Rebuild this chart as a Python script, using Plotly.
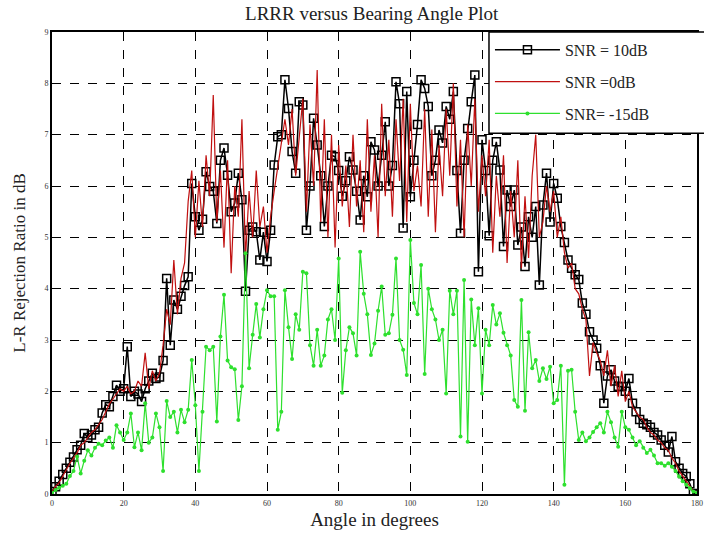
import plotly.graph_objects as go

angles = list(range(0, 181))

snr_10db = [
    0.05, 0.14, 0.25, 0.38, 0.5, 0.62, 0.72, 0.86, 0.95, 1.18,
    1.1, 1.15, 1.25, 1.3, 1.58, 1.74, 1.7, 1.9, 2.12, 2.0,
    2.05, 2.87, 1.9, 2.0, 1.95, 1.8, 2.05, 2.2, 2.35, 2.25,
    2.28, 2.6, 4.2, 2.9, 3.78, 3.6, 3.85, 4.06, 4.23, 6.05,
    5.4, 5.14, 5.35, 6.28, 5.99, 5.9, 5.27, 6.5, 6.74, 6.21,
    5.5, 5.67, 6.25, 5.73, 3.95, 5.14, 5.2, 5.11, 4.56, 5.1,
    4.53, 5.14, 6.41, 6.96, 7.0, 8.07, 7.51, 6.67, 6.25, 7.64,
    7.58, 5.14, 6.0, 7.32, 6.8, 6.2, 5.21, 6.0, 6.6, 6.57,
    6.3, 5.8, 6.1, 6.57, 6.31, 5.9, 5.34, 6.2, 5.79, 6.86,
    6.7, 6.0, 6.6, 7.25, 6.0, 6.4, 8.03, 7.6, 5.18, 7.84,
    5.79, 6.5, 7.2, 8.07, 7.9, 7.55, 6.2, 6.5, 7.09, 6.84,
    7.55, 7.3, 7.84, 6.3, 5.08, 6.5, 7.12, 7.64, 8.16, 4.33,
    6.9, 6.3, 5.03, 6.5, 6.86, 6.31, 4.82, 5.92, 5.6, 5.92,
    4.85, 5.2, 4.43, 5.4, 5.0, 5.6, 4.07, 5.63, 6.25, 5.3,
    6.05, 5.76, 5.21, 4.9, 4.56, 4.4, 4.27, 4.18, 3.72, 3.5,
    3.16, 3.0, 2.84, 2.5, 1.77, 2.3, 2.42, 2.2, 2.1, 2.09,
    2.0, 2.25, 1.77, 1.6, 1.45, 1.38, 1.35, 1.3, 1.2, 1.15,
    1.05, 0.95, 0.82, 1.12, 0.63, 0.5, 0.4, 0.34, 0.2, 0.01,
    0.0,
]

snr_0db = [
    0.05, 0.15, 0.22, 0.35, 0.45, 0.6, 0.7, 0.8, 0.95, 1.0,
    1.1, 1.2, 1.25, 1.35, 1.45, 1.6, 1.75, 1.85, 1.95, 2.05,
    2.0, 2.1, 1.95, 2.0, 2.2, 2.1, 2.75, 2.05, 2.4, 2.2,
    2.35, 2.9, 3.6, 3.3, 4.56, 3.5, 4.2, 4.5, 5.7, 6.3,
    5.0, 6.1, 5.2, 6.6, 5.8, 7.77, 5.3, 6.3, 4.8, 6.5,
    4.3, 6.0, 5.4, 7.3, 4.6, 5.9, 5.0, 6.3, 5.2, 5.6,
    4.7, 5.4, 5.9, 6.4, 6.9, 7.3, 6.8, 7.5, 6.2, 7.0,
    7.7, 5.5, 7.2, 6.0, 8.26, 5.3, 7.3, 5.0, 7.0, 4.8,
    6.8, 5.6, 6.4, 5.2, 7.0, 5.6, 6.5, 5.1, 7.3, 5.5,
    6.6, 5.0, 7.6, 5.8, 6.9, 5.4, 7.3, 6.1, 7.7, 5.3,
    7.6, 5.9, 6.4, 5.6, 7.5, 5.4, 7.1, 5.1, 6.8, 5.8,
    7.5, 6.2, 8.0, 5.6, 6.9, 5.0, 7.2, 6.0, 7.7, 5.5,
    6.6, 5.8, 6.9, 4.7, 6.2, 5.4, 6.6, 4.5, 5.9, 5.0,
    6.5, 4.4, 5.8, 4.6, 6.2, 7.0, 5.0, 5.3, 6.0, 5.5,
    5.9, 5.0, 5.4, 4.7, 4.4, 4.5, 4.0, 3.9, 3.6, 3.4,
    2.3, 2.95, 2.75, 2.6, 2.3, 2.8, 2.1, 2.5, 1.9, 2.4,
    1.8, 2.0, 1.7, 1.6, 1.5, 1.45, 1.3, 1.2, 1.15, 1.05,
    1.0, 0.9, 0.85, 0.7, 0.6, 0.45, 0.35, 0.25, 0.15, 0.05,
    0.02,
]

snr_m15db = [
    0.02, 0.08, 0.12, 0.16, 0.2, 0.35, 0.45, 0.73, 0.4, 0.65,
    0.85, 0.75, 0.9, 0.98, 0.95, 1.04, 1.1, 0.9, 1.34, 1.2,
    1.05, 1.2, 1.57, 0.91, 1.2, 0.85, 1.77, 1.0, 1.1, 1.57,
    1.3, 0.45, 1.81, 1.5, 1.6, 1.2, 1.64, 1.4, 1.64, 2.61,
    1.73, 0.45, 1.6, 2.87, 2.8, 2.87, 1.41, 3.07, 3.88, 2.6,
    2.47, 2.43, 1.44, 2.1, 4.69, 2.45, 3.1, 3.7, 3.05, 3.6,
    3.97, 3.85, 3.85, 1.25, 1.6, 3.97, 3.25, 2.63, 3.5, 3.2,
    4.33, 4.3, 2.9, 2.5, 3.2, 2.5, 2.7, 3.4, 3.6, 3.0,
    4.59, 1.97, 2.8, 3.25, 3.13, 2.7, 4.72, 3.9, 3.5, 2.71,
    2.93, 3.57, 4.04, 3.1, 3.13, 3.49, 4.59, 3.0, 2.81, 2.32,
    4.95, 3.72, 3.5, 4.46, 2.34, 4.0, 3.6, 3.4, 3.0, 3.2,
    1.96, 3.96, 3.5, 3.96, 1.12, 4.17, 1.02, 3.79, 2.9, 3.62,
    1.96, 3.2, 2.9, 3.68, 3.3, 3.52, 3.14, 2.9, 2.7, 1.83,
    1.7, 3.78, 1.62, 3.15, 2.45, 2.61, 2.2, 2.45, 2.24, 2.48,
    1.77, 1.83, 2.5, 0.18, 2.4, 2.42, 1.6, 1.05, 1.2, 1.03,
    1.1, 1.21, 1.3, 1.38, 1.2, 1.6, 1.4, 1.1, 0.92, 1.6,
    1.3, 1.25, 1.1, 0.95, 1.03, 0.9, 0.8, 0.86, 0.75, 0.6,
    0.6, 0.55, 0.6, 0.53, 0.45, 0.34, 0.25, 0.18, 0.11, 0.05,
    0.02,
]

x_ticks = [0, 20, 40, 60, 80, 100, 120, 140, 160, 180]
y_ticks = [0, 1, 2, 3, 4, 5, 6, 7, 8, 9]

serif = "Liberation Serif, Times New Roman, serif"

fig = go.Figure()
fig.add_trace(go.Scatter(
    x=angles, y=snr_10db, mode="lines+markers", name="SNR = 10dB",
    legendgroup="a",
    line=dict(color="black", width=1.5),
    marker=dict(symbol="square-open", size=8, color="black", line=dict(width=1.5)),
))
fig.add_trace(go.Scatter(
    x=angles, y=snr_0db, mode="lines", name="SNR =0dB",
    legendgroup="b",
    line=dict(color="#c01010", width=1.2),
))
fig.add_trace(go.Scatter(
    x=angles, y=snr_m15db, mode="lines+markers", name="SNR= -15dB",
    legendgroup="c",
    line=dict(color="#2ee02e", width=1.2),
    marker=dict(symbol="circle", size=4, color="#2ee02e"),
))

axis_common = dict(
    showgrid=True, gridcolor="black", griddash="dash", gridwidth=1,
    showline=True, linecolor="black", linewidth=2, mirror=True,
    zeroline=False, ticks="", automargin=False,
    tickfont=dict(family=serif, size=8, color="#333"),
)

fig.update_layout(
    width=704, height=542,
    margin=dict(l=52, r=7, t=32, b=48),
    paper_bgcolor="white", plot_bgcolor="white",
    title=dict(text="LRRR versus Bearing Angle Plot", x=0.528, xanchor="center",
               y=0.975, yanchor="middle",
               font=dict(family=serif, size=19, color="#222")),
    xaxis=dict(range=[0, 180], tickvals=x_ticks, ticktext=[str(v) for v in x_ticks],
               title=dict(text="Angle in degrees", font=dict(family=serif, size=19, color="#222"),
                          standoff=6),
               **axis_common),
    yaxis=dict(range=[0, 9], tickvals=y_ticks, ticktext=[str(v) for v in y_ticks],
               title=dict(text="L-R Rejection Ratio in dB", font=dict(family=serif, size=17, color="#222"),
                          standoff=14),
               **axis_common),
    showlegend=True,
    legend=dict(x=0.679, xanchor="left", y=0.998, yanchor="top",
                bgcolor="rgba(0,0,0,0)", borderwidth=0,
                font=dict(family=serif, size=16, color="#222"),
                itemwidth=65, tracegroupgap=8, traceorder="grouped"),
    shapes=[dict(type="rect", xref="paper", yref="paper",
                 x0=0.6775, x1=1.03, y0=0.781, y1=1.0,
                 fillcolor="white", line=dict(color="black", width=1.5), layer="above")],
)

fig.write_html("out.html")
